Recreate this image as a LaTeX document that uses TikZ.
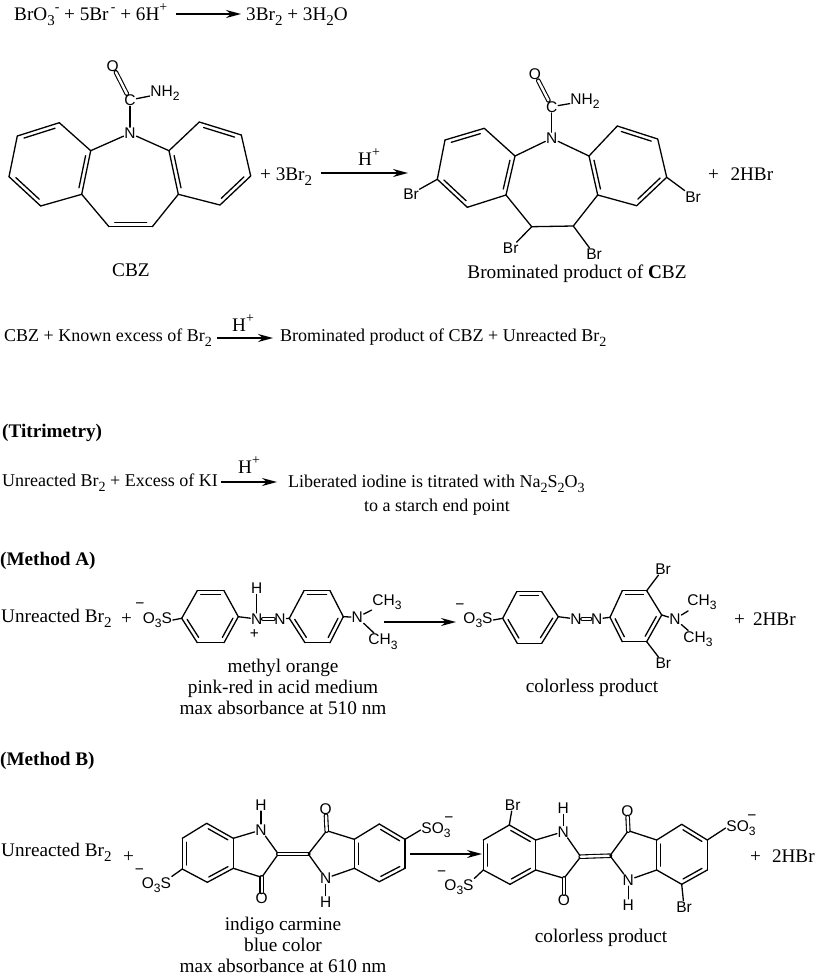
\documentclass[tikz,border=0pt]{standalone}
\usepackage{fontspec}
\setmainfont{Liberation Serif}
\newfontfamily\atomfont{Liberation Sans}
\usetikzlibrary{arrows.meta,calc}
\newcommand{\sbs}[1]{\raisebox{-.3em}{\scalebox{.78}{#1}}}
\newcommand{\sps}[1]{\raisebox{.42em}{\scalebox{.72}{#1}}}
\newcommand{\dblin}[2]{\draw[inbond] ($(#1)!.13!(#2)!4pt!90:(#2)$) -- ($(#2)!.13!(#1)!4pt!-90:(#1)$);}
\newcommand{\ringbonds}[1]{\foreach \u/\v in {1/2,2/3,3/4,4/5,5/6,6/1} \path (#1\u) edge (#1\v);}
\tikzset{
  atom/.style={inner sep=.6pt,font=\atomfont\fontsize{15.5}{17}\selectfont},
  txt/.style={inner sep=0pt,anchor=base west,font=\fontsize{18}{20}\selectfont},
  txb/.style={font=\fontsize{19.2}{21}\selectfont},
  captxt/.style={inner sep=0pt,anchor=base,font=\fontsize{19.3}{21}\selectfont},
  inbond/.style={line width=1.3pt,line cap=round},
  dbond/.style={double,double distance=2.4pt,line width=1.1pt},
  rarrow/.style={line width=1.6pt,-{Stealth[length=15pt,width=8pt]}}
}
\begin{document}
\begin{tikzpicture}[x=1pt,y=-1pt]
      \useasboundingbox (0,0) rectangle (815,978);
      \fill[white] (0,0) rectangle (815,978);

      \foreach \n/\x/\y in {a1/59.3/122.7,a2/17.3/136,a3/9/176.7,a4/40.7/206,a5/81.7/194.3,a6/90.7/150.7,
        b1/169/150.7,b2/199.3/122,b3/241.3/135,b4/250.7/176,b5/220/205,b6/178.3/194.3,
        c1/109/226.7,c2/152.3/226.7,
        d1/484.3/128.3,d2/445/140,d3/437.3/179.3,d4/467.3/207.3,d5/506/195,d6/515/156,
        e1/589/156,e2/617.3/126,e3/657.7/139,e4/666.7/177.3,e5/636.7/205.7,e6/597.7/195,
        f1/531.7/226.7,f2/573.3/226,
        g1/181.7/618.3,g2/197.3/590.7,g3/224/590.7,g4/238.3/616.7,g5/224/642.7,g6/197.3/642.7,
        h1/289.3/618.3,h2/304/590.7,h3/330/590.7,h4/343.3/616.7,h5/330/642.7,h6/305/642.7,
        i1/502.7/618.3,i2/516.7/591.7,i3/541.7/591.7,i4/558.3/616.7,i5/541.7/643.3,i6/517.3/643.3,
        j1/610/617.3,j2/622.3/590.7,j3/646.7/590.7,j4/661.7/615,j5/646.7/641.7,j6/622.3/641.7,
        k1/182.3/838.3,k2/206.7/823.3,k3/233.3/838.3,k4/233.3/868.3,k5/207.3/882.3,k6/182.3/869,
        l1/354.3/839.3,l2/379.3/824,l3/405/839.3,l4/405/868.3,l5/379.3/881.7,l6/354.3/868.3,
        p1/278.3/854,p2/261.7/877.3,q1/308.3/854,q2/326.7/830.7,
        m1/483.3/840,m2/509.3/825,m3/535.7/840,m4/535.7/870,m5/510/884.3,m6/483.3/870,
        n1/656.7/840,n2/681.7/824.3,n3/707.3/840,n4/707.3/870,n5/681.7/884.3,n6/656.7/870,
        r1/580.7/856.7,r2/564/878.3,s1/610/855.7,s2/628.3/830.7,
        ar1/176/14,ar2/241/14,ar3/321/173,ar4/408/173,ar5/217/338,ar6/273/338,ar7/221/482,ar8/277/482,
        ar9/384/622,ar10/456/622,ar11/410/854,ar12/482/854}
        \coordinate (\n) at (\x,\y);

      \begin{scope}[every node/.style={atom}]
        \node (cbzO)  at (112.7,66)  {O};
        \node (cbzC)  at (130,100)   {C};
        \node (cbzN)  at (130,133.3) {N};
        \node (cbzA)  at (165,93)    {NH\sbs{2}};
        \node (brzO)  at (535,74.3)  {O};
        \node (brzC)  at (551.7,106.7) {C};
        \node (brzN)  at (551.7,138.3) {N};
        \node (brzA)  at (585,101)   {NH\sbs{2}};
        \node (brz1)  at (411,194)   {Br};
        \node (brz2)  at (693,196.7) {Br};
        \node (brz3)  at (510.7,248.3) {Br};
        \node (brz4)  at (594,254)   {Br};
        \node (moM)   at (140,606)   {−};
        \node (moS)   at (157.5,620) {O\sbs{3}S};
        \node (moN)   at (256.7,619) {N};
        \node (moH)   at (256.7,588.3) {H};
        \node (moP)   at (254.5,634) {+};
        \node (moZ)   at (280,619)   {N};
        \node (moD)   at (357.3,617.3) {N};
        \node (moC1)  at (387,602.3) {CH\sbs{3}};
        \node (moC2)  at (383,641.5) {CH\sbs{3}};
        \node (mpM)   at (460,606.7) {−};
        \node (mpS)   at (478,620)   {O\sbs{3}S};
        \node (mpN)   at (576,619)   {N};
        \node (mpZ)   at (596.7,619) {N};
        \node (mpB1)  at (663,569)   {Br};
        \node (mpB2)  at (663.3,663.3) {Br};
        \node (mpD)   at (675,619)   {N};
        \node (mpC1)  at (702,602.3) {CH\sbs{3}};
        \node (mpC2)  at (698,639)   {CH\sbs{3}};
        \node (icM)   at (139.3,871.7) {−};
        \node (icS)   at (156.5,885) {O\sbs{3}S};
        \node (icN)   at (261,830)   {N};
        \node (icH)   at (261,805)   {H};
        \node (icO)   at (261.7,898.3) {O};
        \node (icO2)  at (325.7,809.3) {O};
        \node (icN2)  at (325.7,878.3) {N};
        \node (icH2)  at (325.7,901.7) {H};
        \node (icT)   at (436,830)   {SO\sbs{3}};
        \node (icM2)  at (449,820)   {−};
        \node (ipM)   at (441.7,873.3) {−};
        \node (ipS)   at (459,887)   {O\sbs{3}S};
        \node (ipB1)  at (512.7,805) {Br};
        \node (ipN)   at (563.3,831.7) {N};
        \node (ipH)   at (563.3,808.3) {H};
        \node (ipO)   at (564,900)   {O};
        \node (ipO2)  at (627.3,810.7) {O};
        \node (ipN2)  at (628.3,880) {N};
        \node (ipH2)  at (628.3,905) {H};
        \node (ipB2)  at (684,906.7) {Br};
        \node (ipT)   at (741,828)   {SO\sbs{3}};
        \node (ipM2)  at (752,818)   {−};
      \end{scope}

      \begin{scope}[every edge/.style={draw,line width=1.3pt,line cap=round,line join=round}]
        \ringbonds{a} \ringbonds{b} \ringbonds{d} \ringbonds{e}
        \ringbonds{g} \ringbonds{h} \ringbonds{i} \ringbonds{j}
        \ringbonds{k} \ringbonds{l} \ringbonds{m} \ringbonds{n}

        \path (cbzN) edge (cbzC);
        \path (cbzC) edge[dbond] (cbzO);
        \path (cbzC) edge (cbzA);
        \path (cbzN) edge (a6);
        \path (cbzN) edge (b1);
        \path (a5)   edge (c1);
        \path (c1)   edge (c2);
        \path (c2)   edge (b6);

        \path (brzN) edge (brzC);
        \path (brzC) edge[dbond] (brzO);
        \path (brzC) edge (brzA);
        \path (brzN) edge (d6);
        \path (brzN) edge (e1);
        \path (d5)   edge (f1);
        \path (f1)   edge (f2);
        \path (f2)   edge (e6);
        \path (d3)   edge (brz1);
        \path (e4)   edge (brz2);
        \path (f1)   edge (brz3);
        \path (f2)   edge (brz4);

        \path (moS.east) edge (g1);
        \path (g4)   edge (moN);
        \path (moN)  edge (moH);
        \path (moN)  edge[dbond] (moZ);
        \path (moZ)  edge (h1);
        \path (h4)   edge (moD);
        \path (moD)  edge (moC1);
        \path (moD)  edge (moC2);

        \path (mpS.east) edge (i1);
        \path (i4)   edge (mpN);
        \path (mpN)  edge[dbond] (mpZ);
        \path (mpZ)  edge (j1);
        \path (j3)   edge (mpB1);
        \path (j5)   edge (mpB2);
        \path (j4)   edge (mpD);
        \path (mpD)  edge (mpC1);
        \path (mpD)  edge (mpC2);

        \path (icS.north east) edge (k6);
        \path (k3)   edge (icN);
        \path (icN)  edge (icH);
        \path (icN)  edge (p1);
        \path (p1)   edge (p2);
        \path (p2)   edge (k4);
        \path (p2)   edge[dbond] (icO);
        \path (p1)   edge[dbond] (q1);
        \path (q1)   edge (q2);
        \path (q2)   edge (l1);
        \path (q2)   edge[dbond] (icO2);
        \path (q1)   edge (icN2);
        \path (icN2) edge (l6);
        \path (icN2) edge (icH2);
        \path (l3)   edge (icT.west);

        \path (ipS.north east) edge (m6);
        \path (m2)   edge (ipB1);
        \path (m3)   edge (ipN);
        \path (ipN)  edge (ipH);
        \path (ipN)  edge (r1);
        \path (r1)   edge (r2);
        \path (r2)   edge (m4);
        \path (r2)   edge[dbond] (ipO);
        \path (r1)   edge[dbond] (s1);
        \path (s1)   edge (s2);
        \path (s2)   edge (n1);
        \path (s2)   edge[dbond] (ipO2);
        \path (s1)   edge (ipN2);
        \path (ipN2) edge (n6);
        \path (ipN2) edge (ipH2);
        \path (n5)   edge (ipB2);
        \path (n3)   edge (ipT.west);
      \end{scope}

      \dblin{a1}{a2} \dblin{a3}{a4} \dblin{a5}{a6}
      \dblin{b3}{b2} \dblin{b5}{b4} \dblin{b1}{b6}
      \dblin{c1}{c2}
      \dblin{d1}{d2} \dblin{d3}{d4} \dblin{d5}{d6}
      \dblin{e3}{e2} \dblin{e5}{e4} \dblin{e1}{e6}
      \foreach \r in {g,h,i,j} {\dblin{\r3}{\r2} \dblin{\r1}{\r6} \dblin{\r5}{\r4}}
      \foreach \r in {k,l,m,n} {\dblin{\r3}{\r2} \dblin{\r1}{\r6} \dblin{\r5}{\r4}}

      \draw[rarrow] (ar1) -- (ar2);
      \draw[rarrow] (ar3) -- (ar4);
      \draw[rarrow] (ar5) -- (ar6);
      \draw[rarrow] (ar7) -- (ar8);
      \draw[rarrow] (ar9) -- (ar10);
      \draw[rarrow] (ar11) -- (ar12);

      \begin{scope}[every node/.style={txt}]
        \node[txb] (t1)  at (14,20)   {BrO\sbs{3}\sps{-} + 5Br\sps{\,-} + 6H\sps{+}};
        \node[txb] (t2)  at (246,20)  {3Br\sbs{2} + 3H\sbs{2}O};
        \node[txb] (t3)  at (260,180) {+ 3Br\sbs{2}};
        \node[txb] (t4)  at (358,165) {H\sps{+}};
        \node[txb] (t5)  at (708,180) {+\hspace{11.5pt}2HBr};
        \node (t6)  at (4,341)   {CBZ + Known excess of Br\sbs{2}};
        \node[txb] (t7)  at (232,331) {H\sps{+}};
        \node (t8)  at (280,341) {Brominated product of CBZ + Unreacted Br\sbs{2}};
        \node[txb] (t9)  at (2,437)   {\textbf{(Titrimetry)}};
        \node (t10) at (2,486)   {Unreacted Br\sbs{2} + Excess of KI};
        \node[txb] (t11) at (238,473) {H\sps{+}};
        \node (t12) at (288,487) {Liberated iodine is titrated with Na\sbs{2}S\sbs{2}O\sbs{3}};
        \node[txb] (t13) at (0,565)   {\textbf{(Method A)}};
        \node[txb] (t14) at (1,622)   {Unreacted Br\sbs{2}};
        \node[txb] (t15) at (121,624) {+};
        \node[txb] (t16) at (734,625) {+\hspace{8pt}2HBr};
        \node[txb] (t17) at (0,765)   {\textbf{(Method B)}};
        \node[txb] (t18) at (1,856)   {Unreacted Br\sbs{2}};
        \node[txb] (t19) at (123,862) {+};
        \node[txb] (t20) at (750,862) {+\hspace{11pt}2HBr};
      \end{scope}

      \begin{scope}[every node/.style={captxt}]
        \node (c10) at (131,276)  {CBZ};
        \node (c11) at (577,278)  {Brominated product of \textbf{C}BZ};
        \node (c12) at (437,511)  {\fontsize{18}{20}\selectfont to a starch end point};
        \node (c13) at (283,672)  {methyl orange};
        \node (c14) at (283,693)  {pink-red in acid medium};
        \node (c15) at (283,714)  {max absorbance at 510 nm};
        \node (c16) at (592,692)  {colorless product};
        \node (c17) at (283,930)  {indigo carmine};
        \node (c18) at (283,951)  {blue color};
        \node (c19) at (283,972)  {max absorbance at 610 nm};
        \node (c20) at (601,942)  {colorless product};
      \end{scope}
    \end{tikzpicture}
\end{document}
